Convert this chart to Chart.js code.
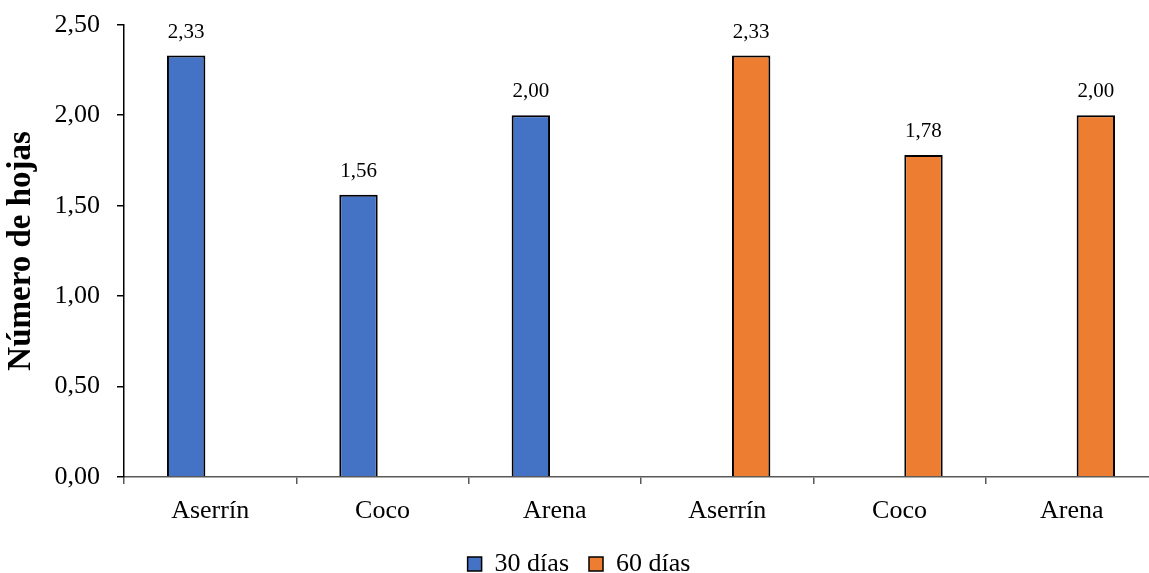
<!DOCTYPE html>
<html>
<head>
<meta charset="utf-8">
<script src="https://cdn.jsdelivr.net/npm/chart.js@4"></script>
<style>
    html, body { margin: 0; padding: 0; background: #fff; overflow: hidden; }
    #wrap { width: 1165px; height: 573px; position: relative; }
</style>
</head>
<body>
<div id="wrap"><canvas id="chart"></canvas></div>
<script>
const categories = ["Aserrín", "Coco", "Arena", "Aserrín", "Coco", "Arena"];
const dias30 = [2.33, 1.56, 2.00, null, null, null];
const dias60 = [null, null, null, 2.33, 1.78, 2.00];
const yTicks = [0, 0.5, 1, 1.5, 2, 2.5];

const FONT = "'Liberation Serif', 'Times New Roman', serif";
const fmt = v => v.toFixed(2).replace(".", ",");

const valueLabels = {
    id: "valueLabels",
    afterDatasetsDraw(chart) {
        const ctx = chart.ctx;
        ctx.save();
        ctx.font = `21px ${FONT}`;
        ctx.fillStyle = "#000";
        ctx.textAlign = "center";
        ctx.textBaseline = "bottom";
        chart.data.datasets.forEach((ds, i) => {
            chart.getDatasetMeta(i).data.forEach((bar, j) => {
                const v = ds.data[j];
                if (v == null) return;
                ctx.fillText(fmt(v), bar.x, bar.y - 13);
            });
        });
        ctx.restore();
    }
};

new Chart(document.getElementById("chart"), {
    type: "bar",
    data: {
        labels: categories,
        datasets: [
            {
                label: "30 días",
                data: dias30,
                backgroundColor: "#4472C4",
                borderColor: "#000",
                borderWidth: 2,
            },
            {
                label: "60 días",
                data: dias60,
                backgroundColor: "#ED7D31",
                borderColor: "#000",
                borderWidth: 2,
            },
        ],
    },
    options: {
        responsive: true,
        maintainAspectRatio: false,
        animation: false,
        categoryPercentage: 0.557,
        barPercentage: 0.8,
        layout: { padding: { top: 12, left: 0, right: 7, bottom: -14 } },
        plugins: {
            legend: {
                position: "bottom",
                labels: {
                    font: { family: FONT, size: 26 },
                    color: "#000",
                    boxWidth: 14,
                    boxHeight: 14,
                    padding: 20,
                    generateLabels(chart) {
                        return chart.data.datasets.map((ds, i) => ({
                            text: ds.label,
                            fillStyle: ds.backgroundColor,
                            strokeStyle: "#000",
                            lineWidth: 1.5,
                            datasetIndex: i,
                        }));
                    },
                },
            },
            tooltip: { enabled: false },
        },
        scales: {
            x: {
                grid: { display: true, drawOnChartArea: false, offset: true, tickLength: 7, color: "#595959", lineWidth: 1.5 },
                border: { color: "#595959", width: 1.5 },
                ticks: { font: { family: FONT, size: 26 }, color: "#000", padding: 12 },
                afterFit(scale) { scale.height = 54; },
            },
            y: {
                min: 0,
                max: 2.5,
                afterBuildTicks(scale) { scale.ticks = yTicks.map(v => ({ value: v })); },
                grid: { display: true, drawOnChartArea: false, tickLength: 7, color: "#000", lineWidth: 1.5 },
                border: { color: "#000", width: 1.5 },
                ticks: { font: { family: FONT, size: 26, lineHeight: 0.6 }, color: "#000", padding: 17, callback: v => fmt(v) },
                title: {
                    display: true,
                    text: "Número de hojas",
                    font: { family: FONT, size: 33, weight: "bold" },
                    color: "#000",
                    padding: { top: 2, bottom: 0 },
                },
                afterFit(scale) { scale.width = 124; },
            },
        },
    },
    plugins: [valueLabels],
});
</script>
</body>
</html>
